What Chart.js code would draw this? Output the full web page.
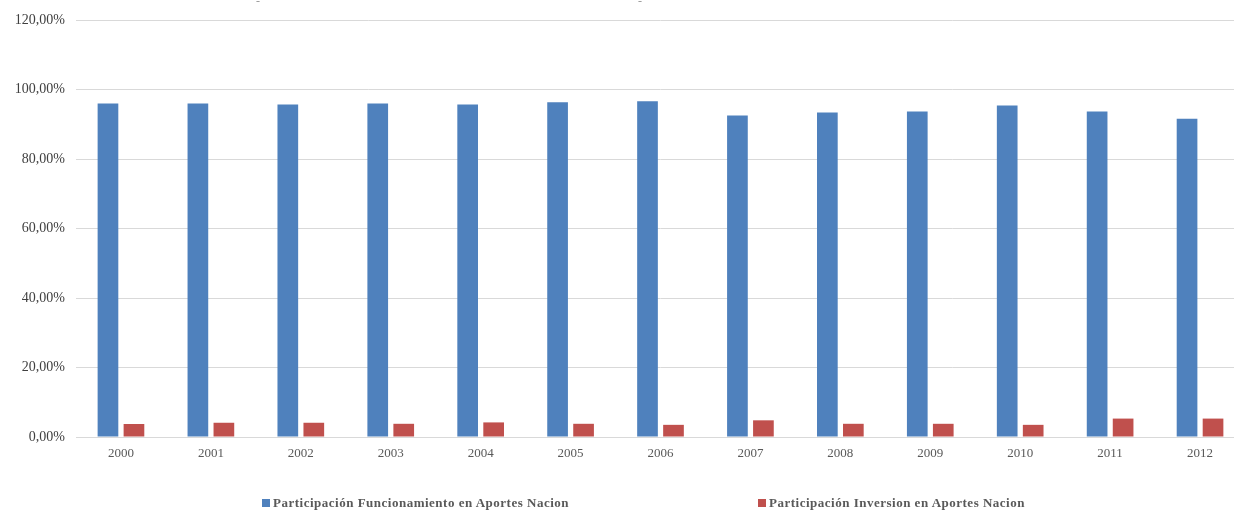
<!DOCTYPE html>
<html>
<head>
<meta charset="utf-8">
<script src="https://cdn.jsdelivr.net/npm/chart.js@4/dist/chart.umd.min.js"></script>
<style>
  html, body { margin: 0; padding: 0; background: #fff; overflow: hidden; }
  .wrap { position: relative; width: 1245px; height: 510px; }
  .legend { position: absolute; top: 495px; font-family: "Liberation Serif", serif; font-weight: bold; font-size: 13px; letter-spacing: 0.5px; color: #595959; white-space: nowrap; }
  .legend i { display: inline-block; width: 8px; height: 8px; margin-right: 3px; vertical-align: 0px; }
  .dash { position: absolute; top: -6px; font-family: "Liberation Serif", serif; font-size: 12px; color: #999; }
</style>
</head>
<body>
<div class="wrap">
  <canvas id="chart" width="1245" height="510"></canvas>
  <span class="dash" style="left:256px">-</span>
  <span class="dash" style="left:638px">-</span>
  <div class="legend" id="leg0" style="left:262px"></div>
  <div class="legend" id="leg1" style="left:758px"></div>
</div>
<script>
const years = ["2000", "2001", "2002", "2003", "2004", "2005", "2006", "2007", "2008", "2009", "2010", "2011", "2012"];
const funcionamiento = [96.0, 96.0, 95.7, 96.0, 95.7, 96.3, 96.6, 92.5, 93.4, 93.7, 95.4, 93.7, 91.6];
const inversion = [3.75, 4.1, 4.1, 3.8, 4.2, 3.8, 3.5, 4.8, 3.8, 3.8, 3.5, 5.3, 5.3];
const seriesNames = ["Participación Funcionamiento en Aportes Nacion", "Participación Inversion en Aportes Nacion"];
const seriesColors = ["#4F81BD", "#C0504D"];

const fmt = (v) => v.toFixed(2).replace(".", ",") + "%";

const ctx = document.getElementById("chart").getContext("2d");
new Chart(ctx, {
  type: "bar",
  data: {
    labels: years,
    datasets: [
      { label: seriesNames[0], data: funcionamiento, backgroundColor: seriesColors[0] },
      { label: seriesNames[1], data: inversion, backgroundColor: seriesColors[1] },
    ],
  },
  options: {
    responsive: false,
    animation: false,
    layout: { padding: { top: 20, left: 0, right: 0, bottom: 0 } },
    datasets: { bar: { categoryPercentage: 0.578, barPercentage: 0.796 } },
    plugins: { legend: { display: false }, tooltip: { enabled: false } },
    scales: {
      x: {
        grid: { display: false, drawTicks: false },
        border: { color: "#D9D9D9" },
        ticks: { padding: 9, color: "#595959", font: { family: "Liberation Serif", size: 13 } },
        afterFit: (s) => { s.height = 73; },
      },
      y: {
        min: 0,
        max: 120,
        grid: { color: "#D9D9D9", drawTicks: false },
        border: { display: false },
        ticks: {
          stepSize: 20,
          padding: 11,
          color: "#404040",
          font: { family: "Liberation Serif", size: 14 },
          callback: (v) => fmt(v),
        },
        afterFit: (s) => { s.width = 76; },
      },
    },
  },
});

// legend below the plot
seriesNames.forEach((name, i) => {
  const el = document.getElementById("leg" + i);
  el.innerHTML = '<i style="background:' + seriesColors[i] + '"></i>' + name;
});
</script>
</body>
</html>
